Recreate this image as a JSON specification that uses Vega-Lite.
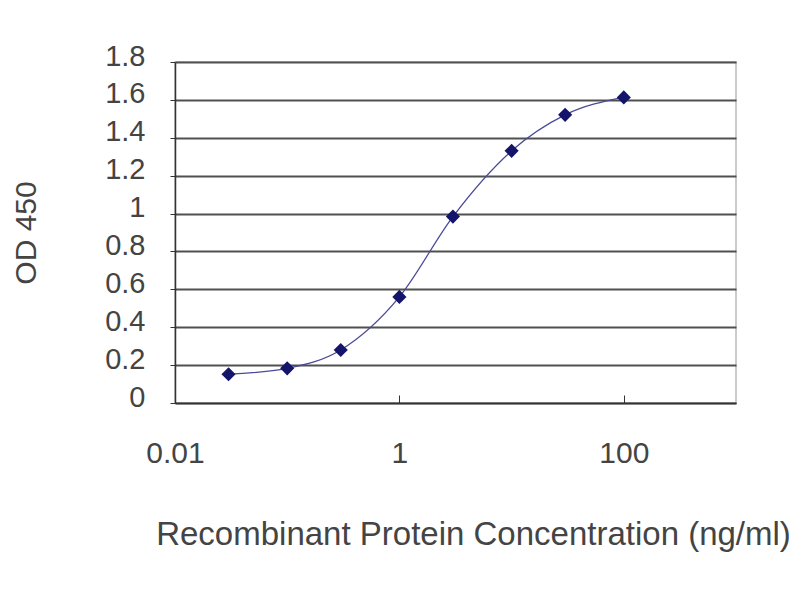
{
  "$schema": "https://vega.github.io/schema/vega-lite/v6.json",
  "width": 561,
  "height": 341,
  "autosize": "none",
  "padding": {"left": 175, "top": 62, "right": 64, "bottom": 197},
  "background": "white",
  "data": {
    "values": [
      {"conc": 0.03, "od": 0.152},
      {"conc": 0.1, "od": 0.183},
      {"conc": 0.3, "od": 0.28},
      {"conc": 1, "od": 0.56},
      {"conc": 3, "od": 0.984},
      {"conc": 10, "od": 1.331},
      {"conc": 30, "od": 1.521},
      {"conc": 100, "od": 1.613}
    ]
  },
  "encoding": {
    "x": {
      "field": "conc",
      "type": "quantitative",
      "scale": {"type": "log", "domain": [0.01, 1000], "nice": false},
      "axis": {
        "title": "Recombinant Protein Concentration (ng/ml)",
        "values": [0.01, 1, 100],
        "format": "~g",
        "grid": false,
        "domainColor": "#333333",
        "domainWidth": 1.5,
        "tickColor": "#333333",
        "tickSize": -8,
        "labelFlush": false,
        "labelPadding": 43,
        "labelFontSize": 30,
        "labelColor": "#444444",
        "labelFont": "Liberation Sans",
        "titleFont": "Liberation Sans",
        "titleFontSize": 33,
        "titleFontWeight": "normal",
        "titleColor": "#444444",
        "titlePadding": 50,
        "titleX": 298
      }
    },
    "y": {
      "field": "od",
      "type": "quantitative",
      "scale": {"domain": [0, 1.8], "nice": false},
      "axis": {
        "title": "OD 450",
        "values": [0, 0.2, 0.4, 0.6, 0.8, 1, 1.2, 1.4, 1.6, 1.8],
        "format": "~g",
        "grid": true,
        "gridColor": "#505050",
        "gridWidth": 2.2,
        "domainColor": "#333333",
        "domainWidth": 1.5,
        "tickColor": "#333333",
        "tickSize": 5,
        "labelPadding": 25,
        "labelOffset": -6,
        "labelFontSize": 29,
        "labelColor": "#444444",
        "labelFont": "Liberation Sans",
        "titleFont": "Liberation Sans",
        "titleFontSize": 30,
        "titleFontWeight": "normal",
        "titleColor": "#444444",
        "titleX": -134
      }
    }
  },
  "layer": [
    {
      "mark": {"type": "line", "interpolate": "monotone", "color": "#4a4a98", "strokeWidth": 1.3}
    },
    {
      "mark": {"type": "point", "shape": "diamond", "filled": true, "color": "#14146b", "size": 200, "opacity": 1}
    }
  ],
  "config": {
    "view": {"stroke": "#bbbbbb", "strokeWidth": 1.5}
  }
}
